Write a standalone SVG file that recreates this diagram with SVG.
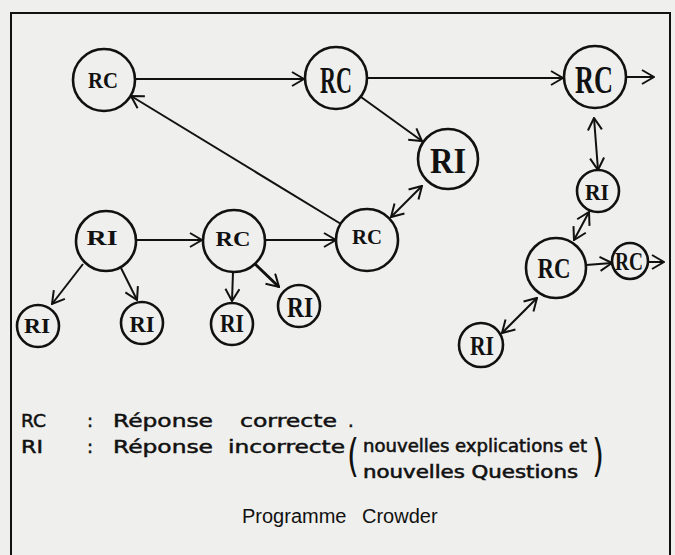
<svg xmlns="http://www.w3.org/2000/svg" width="675" height="555" viewBox="0 0 675 555">
<style>
.bg{fill:#efefed}
.frame{fill:none;stroke:#111;stroke-width:2}
.node circle{fill:none;stroke:#111;stroke-width:2.6}
.node text{font-family:"Liberation Serif","DejaVu Serif",serif;fill:#111;text-anchor:middle;font-weight:bold}
.conn path{fill:none;stroke:#111;stroke-width:2}
.leg{font-family:"DejaVu Sans","Liberation Sans",sans-serif;fill:#111;stroke:#111;stroke-width:0.5;font-size:18px}
.par{font-family:"DejaVu Sans Condensed","DejaVu Sans",sans-serif;fill:#111;stroke:#111;stroke-width:0.5;font-size:17px}
.big{font-family:"DejaVu Sans","Liberation Sans",sans-serif;fill:#111;font-size:44px}
.cap{font-family:"Liberation Sans",Arial,sans-serif;fill:#111;font-size:20px}
</style>
<defs>
<marker id="ah" viewBox="0 0 14 16" markerWidth="14" markerHeight="16" refX="13" refY="8" orient="auto-start-reverse" markerUnits="userSpaceOnUse">
<path d="M1,1 L13,8 L1,15" fill="none" stroke="#111" stroke-width="2"/>
</marker>
</defs>
<rect class="bg" x="0" y="0" width="675" height="555"/>
<path class="frame" d="M11,555 L11,13 L670,13 L670,555"/>

<g id="connectors" class="conn">
<path d="M135,79 L304,79" marker-end="url(#ah)"/>
<path d="M367,78 L563,78" marker-end="url(#ah)"/>
<path d="M626,77 L654,77" marker-end="url(#ah)"/>
<path d="M361,97 L422,141" marker-end="url(#ah)"/>
<path d="M341,224 L131,96" marker-end="url(#ah)"/>
<path d="M391,217 L422,186" marker-start="url(#ah)" marker-end="url(#ah)"/>
<path d="M594,118 L598,170" marker-start="url(#ah)" marker-end="url(#ah)"/>
<path d="M589,212 L574,240" marker-start="url(#ah)" marker-end="url(#ah)"/>
<path d="M586,265 L612,263" marker-end="url(#ah)"/>
<path d="M648,262 L664,262" marker-end="url(#ah)"/>
<path d="M502,333 L537,298" marker-start="url(#ah)" marker-end="url(#ah)"/>
<path d="M136,240 L202,240" marker-end="url(#ah)"/>
<path d="M265,240 L336,240" marker-end="url(#ah)"/>
<path d="M83,264 L52,304" marker-end="url(#ah)"/>
<path d="M121,268 L137,300" marker-end="url(#ah)"/>
<path d="M233,272 L232,301" marker-end="url(#ah)"/>
<path d="M255,264 L279,287" marker-end="url(#ah)" style="stroke-width:3"/>
</g>

<g id="n1" class="node"><circle cx="104" cy="80" r="31"/><text x="103" y="88" font-size="24" textLength="30" lengthAdjust="spacingAndGlyphs">RC</text></g>
<g id="n2" class="node"><circle cx="336" cy="78" r="31"/><text x="336" y="93" font-size="38" textLength="32" lengthAdjust="spacingAndGlyphs">RC</text></g>
<g id="n3" class="node"><circle cx="595" cy="77" r="31"/><text x="594" y="93" font-size="40" textLength="38" lengthAdjust="spacingAndGlyphs">RC</text></g>
<g id="n4" class="node"><circle cx="448" cy="159" r="30"/><text x="448" y="173" font-size="36" textLength="36" lengthAdjust="spacingAndGlyphs">RI</text></g>
<g id="n5" class="node"><circle cx="598" cy="191" r="21"/><text x="597" y="200" font-size="24" textLength="24" lengthAdjust="spacingAndGlyphs">RI</text></g>
<g id="n6" class="node"><circle cx="367" cy="240" r="31"/><text x="367" y="244" font-size="22" textLength="30" lengthAdjust="spacingAndGlyphs">RC</text></g>
<g id="n7" class="node"><circle cx="106" cy="241" r="30"/><text x="102" y="245" font-size="22" textLength="31" lengthAdjust="spacingAndGlyphs">RI</text></g>
<g id="n8" class="node"><circle cx="234" cy="241" r="31"/><text x="233" y="246" font-size="22" textLength="35" lengthAdjust="spacingAndGlyphs">RC</text></g>
<g id="n9" class="node"><circle cx="556" cy="268" r="30"/><text x="554" y="278" font-size="30" textLength="33" lengthAdjust="spacingAndGlyphs">RC</text></g>
<g id="n10" class="node"><circle cx="630" cy="261" r="18"/><text x="629" y="270" font-size="25" textLength="28" lengthAdjust="spacingAndGlyphs">RC</text></g>
<g id="n11" class="node"><circle cx="38" cy="326" r="21"/><text x="37" y="333" font-size="22" textLength="26" lengthAdjust="spacingAndGlyphs">RI</text></g>
<g id="n12" class="node"><circle cx="142" cy="323" r="21"/><text x="142" y="332" font-size="24" textLength="25" lengthAdjust="spacingAndGlyphs">RI</text></g>
<g id="n13" class="node"><circle cx="232" cy="324" r="21"/><text x="232" y="332" font-size="26" textLength="24" lengthAdjust="spacingAndGlyphs">RI</text></g>
<g id="n14" class="node"><circle cx="299" cy="306" r="21"/><text x="300" y="317" font-size="30" textLength="26" lengthAdjust="spacingAndGlyphs">RI</text></g>
<g id="n15" class="node"><circle cx="481" cy="345" r="22"/><text x="482" y="355" font-size="28" textLength="24" lengthAdjust="spacingAndGlyphs">RI</text></g>

<g id="legend">
<text class="leg" x="21" y="427" textLength="25" lengthAdjust="spacingAndGlyphs">RC</text>
<text class="leg" x="87" y="427">:</text>
<text class="leg" x="113" y="427" textLength="100" lengthAdjust="spacingAndGlyphs">Réponse</text>
<text class="leg" x="240" y="427" textLength="97" lengthAdjust="spacingAndGlyphs">correcte</text>
<text class="leg" x="348" y="427">.</text>
<text class="leg" x="21" y="453" textLength="22" lengthAdjust="spacingAndGlyphs">RI</text>
<text class="leg" x="87" y="453">:</text>
<text class="leg" x="113" y="453" textLength="100" lengthAdjust="spacingAndGlyphs">Réponse</text>
<text class="leg" x="228" y="453" textLength="117" lengthAdjust="spacingAndGlyphs">incorrecte</text>
<text class="big" x="347" y="471" textLength="12" lengthAdjust="spacingAndGlyphs">(</text>
<text class="par" x="363" y="452" textLength="224" lengthAdjust="spacingAndGlyphs">nouvelles explications et</text>
<text class="par" x="363" y="478" textLength="215" lengthAdjust="spacingAndGlyphs">nouvelles Questions</text>
<text class="big" x="592" y="471" textLength="12" lengthAdjust="spacingAndGlyphs">)</text>
</g>
<text class="cap" x="242" y="523">Programme<tspan x="362">Crowder</tspan></text>
</svg>
